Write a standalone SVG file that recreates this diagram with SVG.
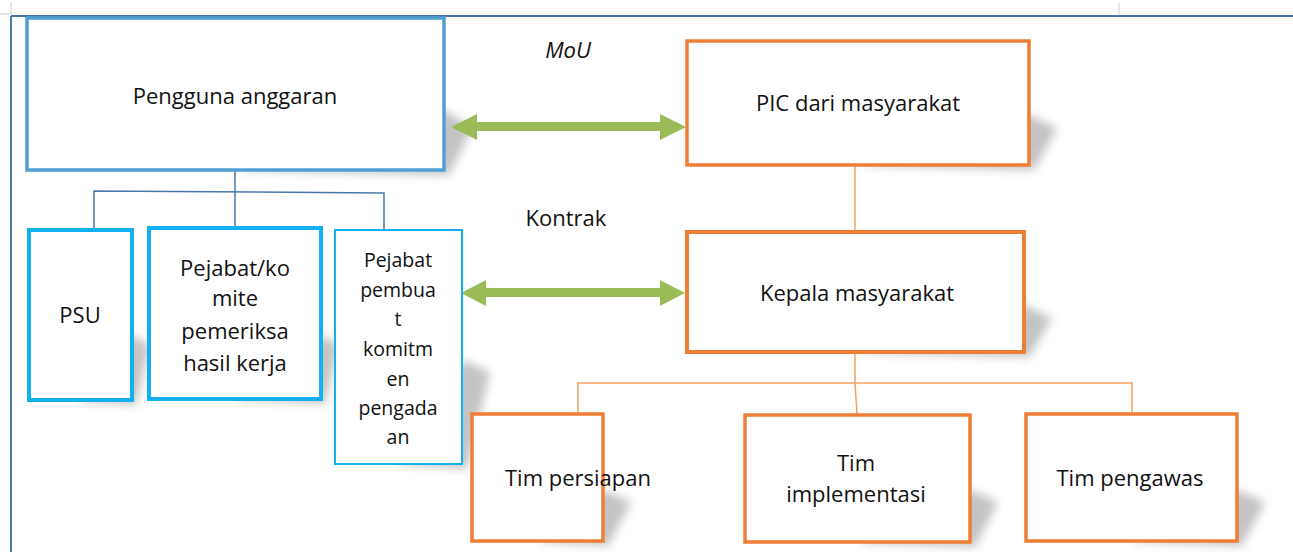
<svg xmlns="http://www.w3.org/2000/svg" width="1293" height="552" viewBox="0 0 1293 552">
<defs>
<filter id="blur" x="-50%" y="-50%" width="200%" height="200%"><feGaussianBlur stdDeviation="5"/></filter>
<style>
text{font-family:"Open Sans","Liberation Sans",sans-serif;font-size:22px;fill:#111;text-anchor:middle}
.sm{font-size:19.5px}
.blue{fill:#fff;stroke:#4f9fd4;stroke-width:3.5}
.cyan{fill:#fff;stroke:#12b0ee;stroke-width:4}
.cyan2{fill:#fff;stroke:#12b0ee;stroke-width:2}
.org{fill:#fff;stroke:#ee7d36;stroke-width:3.5}
.sh{fill:#888;opacity:0.5;filter:url(#blur)}
.lb{fill:none;stroke:#4a76a8;stroke-width:1.5}
.lo{fill:none;stroke:#f5a060;stroke-width:1.5}
.arr{fill:#9bbb59}
</style>
</defs>
<rect width="1293" height="552" fill="#fff"/>
<!-- page frame -->
<line x1="0" y1="14" x2="11" y2="14" stroke="#ccc" stroke-width="1"/>
<line x1="11" y1="2" x2="11" y2="14" stroke="#ccc" stroke-width="1"/>
<line x1="1119" y1="3" x2="1119" y2="15" stroke="#ddd" stroke-width="1.5"/>
<line x1="11" y1="16" x2="1293" y2="16" stroke="#4a76a8" stroke-width="2"/>
<line x1="11" y1="16" x2="11" y2="552" stroke="#4a76a8" stroke-width="2"/>

<!-- shadows -->
<g id="shadows">
<polygon class="sh" points="236,170 444,110 472,128 449,175"/>
<polygon class="sh" points="80,400 132,335 150,345 136,405"/>
<polygon class="sh" points="235,399 321,335 339,345 325,404"/>
<polygon class="sh" points="400,464 462,360 490,372 467,469"/>
<polygon class="sh" points="858,165 1029,115 1057,128 1034,170"/>
<polygon class="sh" points="855,352 1024,305 1052,318 1029,357"/>
<polygon class="sh" points="537,541 603,490 631,502 608,546"/>
<polygon class="sh" points="857,542 970,490 998,502 975,547"/>
<polygon class="sh" points="1131,541 1237,490 1265,502 1242,546"/>
</g>

<g id="connectors">
<polyline class="lb" points="235,170 235,191"/>
<polyline class="lb" points="94,228 94,191 384,193 384,230"/>
<polyline class="lb" points="235,191 235,226"/>
<line class="lo" x1="855" y1="165" x2="855" y2="231"/>
<polyline class="lo" points="855,352 855,383"/>
<polyline class="lo" points="578,413 578,383 1132,383 1132,413"/>
<polyline class="lo" points="855,383 857,414"/>
<polygon class="arr" points="451,127 477,114 477,122 660,122 660,114 686,127 660,140 660,131 477,131 477,140"/>
<polygon class="arr" points="461,293 486,280 486,288 660,288 660,280 685,293 660,306 660,297 486,297 486,306"/>
<text x="568" y="58" style="font-style:italic">MoU</text>
<text x="566" y="226">Kontrak</text>
</g>

<g id="pengguna">
<rect class="blue" x="27" y="18" width="417" height="152"/>
<text x="235" y="104">Pengguna anggaran</text>
</g>
<g id="psu">
<rect class="cyan" x="29" y="230" width="103" height="170"/>
<text x="80" y="323">PSU</text>
</g>
<g id="komite">
<rect class="cyan" x="149" y="228" width="172" height="171"/>
<text x="235" y="276">Pejabat/ko</text>
<text x="235" y="306">mite</text>
<text x="235" y="339">pemeriksa</text>
<text x="235" y="371">hasil kerja</text>
</g>
<g id="ppk">
<rect class="cyan2" x="335" y="230" width="127" height="234"/>
<text class="sm" x="398" y="267">Pejabat</text>
<text class="sm" x="398" y="297">pembua</text>
<text class="sm" x="398" y="326">t</text>
<text class="sm" x="398" y="356">komitm</text>
<text class="sm" x="398" y="386">en</text>
<text class="sm" x="398" y="415">pengada</text>
<text class="sm" x="398" y="444">an</text>
</g>
<g id="pic">
<rect class="org" x="687" y="41" width="342" height="124"/>
<text x="858" y="111">PIC dari masyarakat</text>
</g>
<g id="kepala">
<rect class="org" x="687" y="232" width="337" height="120" style="stroke-width:4"/>
<text x="857" y="301">Kepala masyarakat</text>
</g>
<g id="persiapan">
<rect class="org" x="472" y="414" width="131" height="127"/>
<text x="578" y="486">Tim persiapan</text>
</g>
<g id="implementasi">
<rect class="org" x="745" y="415" width="225" height="127"/>
<text x="856" y="471">Tim</text>
<text x="856" y="502">implementasi</text>
</g>
<g id="pengawas">
<rect class="org" x="1026" y="414" width="211" height="127"/>
<text x="1130" y="486">Tim pengawas</text>
</g>
</svg>
